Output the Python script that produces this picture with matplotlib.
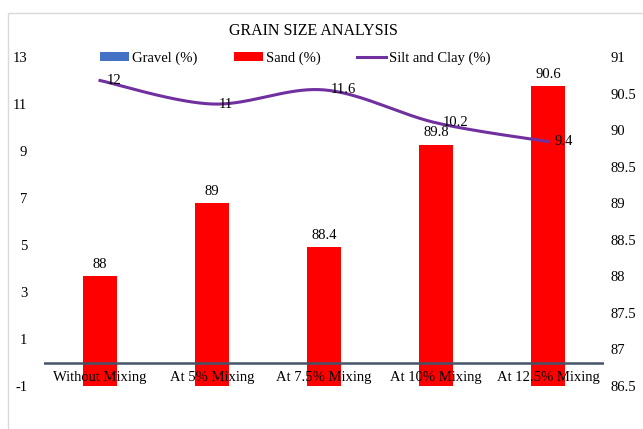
import numpy as np
import matplotlib
matplotlib.use('Agg')
import matplotlib.pyplot as plt
from matplotlib.patches import Rectangle

# 数据
categories = ['Without Mixing', 'At 5% Mixing', 'At 7.5% Mixing', 'At 10% Mixing', 'At 12.5% Mixing']
gravel = [0, 0, 0, 0, 0]
sand = [88, 89, 88.4, 89.8, 90.6]
silt_clay = [12, 11, 11.6, 10.2, 9.4]

left_ticks = [-1, 1, 3, 5, 7, 9, 11, 13]
right_ticks = [86.5, 87, 87.5, 88, 88.5, 89, 89.5, 90, 90.5, 91]

plt.rcParams['font.family'] = ['Liberation Serif', 'DejaVu Serif']
plt.rcParams['axes.unicode_minus'] = False
fs = 10.5


def smooth_curve(xs, ys, n=40):
    # Excel 风格的平滑线 (Catmull-Rom -> Bezier)
    xs = np.asarray(xs, float)
    ys = np.asarray(ys, float)
    px, py = [], []
    for i in range(len(xs) - 1):
        x0, y0 = (xs[i - 1], ys[i - 1]) if i > 0 else (xs[i], ys[i])
        x1, y1 = xs[i], ys[i]
        x2, y2 = xs[i + 1], ys[i + 1]
        x3, y3 = (xs[i + 2], ys[i + 2]) if i + 2 < len(xs) else (x2, y2)
        c1 = (x1 + (x2 - x0) / 6, y1 + (y2 - y0) / 6)
        c2 = (x2 - (x3 - x1) / 6, y2 - (y3 - y1) / 6)
        t = np.linspace(0, 1, n)
        bx = (1 - t)**3 * x1 + 3 * (1 - t)**2 * t * c1[0] + 3 * (1 - t) * t**2 * c2[0] + t**3 * x2
        by = (1 - t)**3 * y1 + 3 * (1 - t)**2 * t * c1[1] + 3 * (1 - t) * t**2 * c2[1] + t**3 * y2
        px.extend(bx)
        py.extend(by)
    return np.array(px), np.array(py)


fig = plt.figure(figsize=(6.43, 4.29), dpi=100)
fig.patches.append(Rectangle((8 / 643, -0.1), 1.2, 1 - 13 / 429 + 0.1, transform=fig.transFigure,
                             fill=False, edgecolor='#d9d9d9', linewidth=1.0))

ax = fig.add_axes([44 / 643, 1 - 386 / 429, 560 / 643, 329 / 429])
ax2 = ax.twinx()

x = np.arange(len(categories))
bw = 0.31

# 右轴: Sand 柱
ax2.bar(x, sand, width=bw, color='#FF0000', label='Sand (%)', zorder=2)
for xi, v in zip(x, sand):
    ax2.annotate(f'{v:g}', (xi, v), xytext=(0, 4), textcoords='offset points',
                 ha='center', va='bottom', fontsize=fs)
ax2.set_ylim(86.5, 91)
ax2.set_yticks(right_ticks)
ax2.set_yticklabels([f'{t:g}' for t in right_ticks])

# 左轴: Gravel 柱 (0) 和 Silt and Clay 线
ax.bar(x, gravel, width=bw, color='#4472C4', label='Gravel (%)')
ax.set_ylim(-1, 13)
ax.set_xlim(-0.5, len(categories) - 0.5)
ax.set_yticks(left_ticks)
ax.set_xticks([])

sx, sy = smooth_curve(x, silt_clay)
line_ax = fig.add_axes(ax.get_position(), sharex=ax, frameon=False)
line_ax.set_ylim(-1, 13)
line_ax.set_xticks([])
line_ax.set_yticks([])
line_ax.axhline(0, color='#44546A', linewidth=1.8, zorder=1)
line_ax.plot(sx, sy, color='#7030A0', linewidth=2.2, label='Silt and Clay (%)', zorder=3)
for xi, v in zip(x, silt_clay):
    line_ax.annotate(f'{v:g}', (xi, v), xytext=(5, 0), textcoords='offset points',
                     ha='left', va='center', fontsize=fs)

for i, c in enumerate(categories):
    line_ax.annotate(c, (i, 0), xytext=(0, -6), textcoords='offset points',
                     ha='center', va='top', fontsize=fs)

for a in (ax, ax2, line_ax):
    for s in a.spines.values():
        s.set_visible(False)
    a.tick_params(length=0, labelsize=fs)
ax.tick_params(axis='y', pad=12)
ax2.tick_params(axis='y', pad=5)

fig.text(0.487, 1 - 31 / 429, 'GRAIN SIZE ANALYSIS', ha='center', va='center', fontsize=11.5)

handles = [ax.containers[0], ax2.containers[0], line_ax.get_lines()[-1]]
fig.legend(handles, ['Gravel (%)', 'Sand (%)', 'Silt and Clay (%)'], ncol=3,
           loc='center', bbox_to_anchor=(0.459, 1 - 58 / 429), frameon=False,
           fontsize=fs, handlelength=2.0, handleheight=0.6, columnspacing=2.5, handletextpad=0.2)

plt.savefig('out.png', dpi=100)
